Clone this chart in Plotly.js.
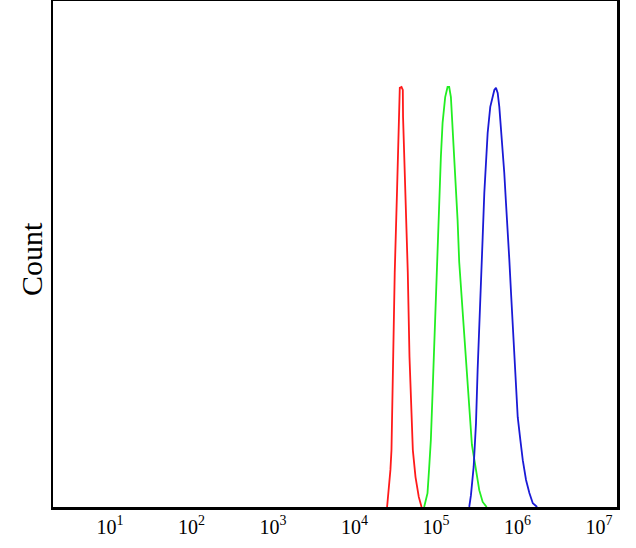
<!DOCTYPE html>
<html>
<head>
<meta charset="utf-8">
<script src="https://cdn.plot.ly/plotly-3.0.1.min.js"></script>
<style>html,body{margin:0;padding:0;background:#fff;}#chart{width:636px;height:548px;}</style>
</head>
<body>
<div id="chart"></div>
<script>
// Fluorescence intensity (log10 units) and counts
var redLog   = [4.399,4.419,4.440,4.453,4.460,4.472,4.493,4.522,4.542,4.555,4.576,4.592,4.595,4.625,4.653,4.674,4.694,4.715,4.748,4.788,4.822];
var redCount = [0,4.0,8.8,13.5,21.8,36.5,55.7,75.6,92.5,99.4,99.6,98.9,92.5,74.0,55.7,35.6,21.8,13.5,7.1,2.4,0];

var greenLog   = [4.854,4.895,4.915,4.936,4.957,4.977,4.998,5.018,5.038,5.059,5.080,5.112,5.141,5.161,5.182,5.203,5.223,5.243,5.264,5.284,5.326,5.367,5.407,5.440,5.490,5.530,5.572,5.621];
var greenCount = [0,3.3,9.2,15.9,27.0,37.9,51.5,63.3,75.6,83.0,91.1,97.2,99.6,99.6,97.2,90.1,82.3,75.9,68.1,58.1,46.7,35.6,24.2,14.7,8.8,4.0,1.2,0];

var blueLog   = [5.407,5.428,5.461,5.490,5.510,5.530,5.551,5.572,5.592,5.613,5.633,5.665,5.695,5.715,5.735,5.756,5.776,5.797,5.817,5.837,5.858,5.879,5.899,5.920,5.940,5.961,5.981,6.002,6.034,6.064,6.104,6.145,6.187,6.240];
var blueCount = [0,2.8,9.5,19.9,32.5,44.3,53.8,64.0,74.5,83.0,88.7,94.9,97.2,98.9,99.4,98.2,94.9,90.1,84.7,79.2,72.1,66.4,58.6,50.7,42.7,35.6,27.7,21.3,15.9,11.1,6.4,3.3,0.9,0];

var tickValues = [1e1,1e2,1e3,1e4,1e5,1e6,1e7];
var tickLabels = ['10<sup>1</sup>','10<sup>2</sup>','10<sup>3</sup>','10<sup>4</sup>','10<sup>5</sup>','10<sup>6</sup>','10<sup>7</sup>'];
var yLabel = 'Count';

function toLin(a){ return a.map(function(v){ return Math.pow(10, v); }); }

var traces = [
  {x: toLin(redLog), y: redCount, type:'scatter', mode:'lines', line:{color:'#ff1a1a', width:1.8}, hoverinfo:'skip'},
  {x: toLin(greenLog), y: greenCount, type:'scatter', mode:'lines', line:{color:'#22ee22', width:1.8}, hoverinfo:'skip'},
  {x: toLin(blueLog), y: blueCount, type:'scatter', mode:'lines', line:{color:'#1a1ad6', width:1.8}, hoverinfo:'skip'}
];

var layout = {
  width: 636, height: 548,
  margin: {l:53, r:19, t:1, b:41, pad:0},
  paper_bgcolor:'#fff', plot_bgcolor:'#fff',
  showlegend:false,
  xaxis: {
    type:'log', range:[0.30, 7.22],
    tickvals: tickValues, ticktext: tickLabels,
    ticks:'', showgrid:false, zeroline:false,
    showline:true, mirror:true, linecolor:'#000', linewidth:2.5,
    tickfont:{family:'Liberation Serif, serif', size:20, color:'#000'}
  },
  yaxis: {
    range:[0, 120], showticklabels:false, ticks:'', showgrid:false, zeroline:false,
    showline:true, mirror:true, linecolor:'#000', linewidth:2.5
  },
  annotations: [{
    text: yLabel, textangle:-90, xref:'paper', yref:'paper',
    x:-0.039, y:0.49, xanchor:'center', yanchor:'middle', showarrow:false,
    font:{family:'Liberation Serif, serif', size:30, color:'#000'}
  }]
};

Plotly.newPlot('chart', traces, layout, {displayModeBar:false, staticPlot:true});
</script>
</body>
</html>
